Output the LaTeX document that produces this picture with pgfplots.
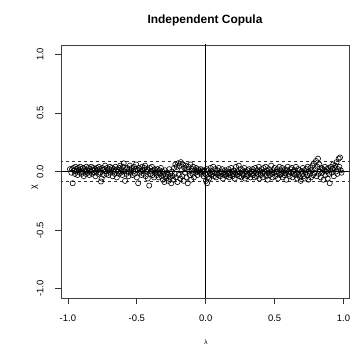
\documentclass[border=0pt]{standalone}
\usepackage{pgfplots}
\pgfplotsset{compat=1.18}
\usepackage{fontspec}
\setmainfont{Liberation Sans}
\begin{document}
\begin{tikzpicture}[x=1bp,y=1bp]
\path[use as bounding box] (0,0) rectangle (351,347);
\begin{axis}[
  at={(61bp,49bp)}, anchor=south west,
  scale only axis, width=288bp, height=253bp,
  xmin=-1.05, xmax=1.04, ymin=-1.08, ymax=1.08,
  axis line style={black!75, line width=0.8bp},
  xtick={-1,-0.5,0,0.5,1}, ytick={-1,-0.5,0,0.5,1},
  xticklabels={-1.0,-0.5,0.0,0.5,1.0}, yticklabels={-1.0,-0.5,0.0,0.5,1.0},
  tick align=outside, xtick pos=bottom, ytick pos=left,
  major tick length=6bp,
  tick style={black!80, line width=0.6bp},
  xticklabel style={font=\fontsize{9.5}{10}\selectfont, inner sep=0pt, anchor=center, yshift=-14bp},
  yticklabel style={font=\fontsize{9.5}{10}\selectfont, rotate=90, anchor=center, inner sep=0pt, yshift=15bp},
  clip=true,
]
\addplot[black, line width=0.6bp] coordinates {(0,-1.1) (0,1.1)};
\addplot[black, line width=0.6bp] coordinates {(-1.1,0) (1.1,0)};
\addplot[black!80, line width=0.6bp, dash pattern=on 3bp off 3bp] coordinates {(-1.1,0.0855) (1.1,0.0855)};
\addplot[black!80, line width=0.6bp, dash pattern=on 3bp off 3bp] coordinates {(-1.1,-0.0855) (1.1,-0.0855)};
\addplot[only marks, mark=o, mark size=2.6bp, mark options={line width=0.6bp, black}] table[row sep=\\] {
l c\\
-0.985 0.02\\ -0.975 -0.01\\ -0.97 0.02\\ -0.965 -0.10\\ -0.96 0.03\\ -0.955 0.01\\ -0.95 -0.02\\ -0.945 0.04\\ -0.94 0.00\\ -0.935 0.02\\
-0.93 -0.03\\ -0.925 0.03\\ -0.92 0.01\\ -0.915 -0.01\\ -0.91 0.04\\ -0.905 0.02\\ -0.90 -0.02\\ -0.895 0.00\\ -0.89 0.03\\ -0.885 -0.04\\
-0.88 0.02\\ -0.875 0.00\\ -0.87 -0.02\\ -0.865 0.04\\ -0.86 0.01\\ -0.855 -0.01\\ -0.85 0.03\\ -0.845 -0.03\\ -0.84 0.02\\ -0.835 0.00\\
-0.83 0.04\\ -0.825 -0.02\\ -0.82 0.01\\ -0.815 0.03\\ -0.81 -0.01\\ -0.805 0.02\\ -0.80 -0.04\\ -0.795 0.00\\ -0.79 0.03\\ -0.785 0.01\\
-0.78 -0.02\\ -0.775 0.04\\ -0.77 0.02\\ -0.765 -0.01\\ -0.76 -0.085\\ -0.755 -0.06\\ -0.75 0.03\\ -0.745 0.01\\ -0.74 -0.03\\ -0.735 0.02\\
-0.73 0.05\\ -0.725 0.00\\ -0.72 -0.02\\ -0.715 0.03\\
-0.71 0.01\\ -0.705 -0.03\\ -0.70 0.02\\ -0.695 0.04\\ -0.69 -0.01\\ -0.685 0.01\\ -0.68 0.03\\ -0.675 -0.04\\ -0.67 0.00\\ -0.665 0.02\\
-0.66 -0.02\\ -0.655 0.04\\ -0.65 0.01\\ -0.645 -0.05\\ -0.64 0.02\\ -0.635 0.00\\ -0.63 -0.02\\ -0.625 0.03\\ -0.62 0.05\\ -0.615 -0.01\\
-0.61 0.01\\ -0.605 -0.03\\ -0.60 0.04\\ -0.595 0.07\\ -0.59 0.00\\ -0.585 -0.08\\ -0.58 0.02\\ -0.575 -0.02\\ -0.57 0.03\\ -0.565 0.00\\
-0.56 -0.04\\ -0.555 0.02\\ -0.55 0.05\\ -0.545 -0.01\\ -0.54 0.01\\ -0.535 0.03\\ -0.53 -0.03\\ -0.525 0.00\\ -0.52 0.04\\ -0.515 -0.02\\
-0.51 0.02\\ -0.505 0.06\\ -0.50 -0.05\\ -0.495 0.01\\ -0.49 -0.10\\ -0.485 0.03\\ -0.48 -0.01\\ -0.475 0.02\\ -0.47 0.00\\ -0.465 -0.03\\
-0.46 0.04\\ -0.455 0.01\\ -0.45 -0.02\\ -0.445 0.03\\ -0.44 0.05\\ -0.435 -0.04\\ -0.43 0.00\\ -0.425 0.02\\ -0.42 -0.06\\ -0.415 0.01\\
-0.41 -0.12\\ -0.405 0.03\\ -0.40 -0.02\\ -0.395 0.00\\ -0.39 0.04\\ -0.385 -0.03\\ -0.38 0.01\\ -0.375 -0.05\\ -0.37 0.02\\ -0.365 -0.01\\
-0.36 0.00\\ -0.355 -0.03\\ -0.35 0.02\\ -0.345 -0.01\\ -0.34 -0.05\\ -0.335 0.01\\ -0.33 -0.02\\ -0.325 0.03\\ -0.32 -0.04\\ -0.315 0.00\\
-0.31 -0.07\\ -0.305 -0.02\\ -0.30 -0.09\\ -0.295 0.01\\ -0.29 -0.04\\ -0.285 -0.06\\ -0.28 -0.01\\ -0.275 -0.03\\ -0.27 -0.08\\ -0.265 0.02\\
-0.26 -0.05\\ -0.255 -0.02\\ -0.25 -0.10\\ -0.245 0.00\\ -0.24 -0.04\\ -0.235 -0.07\\ -0.23 0.03\\ -0.225 -0.02\\ -0.22 0.06\\ -0.215 -0.05\\
-0.21 0.04\\ -0.205 -0.09\\ -0.20 0.07\\ -0.195 -0.03\\ -0.19 0.05\\ -0.185 -0.06\\ -0.18 0.08\\ -0.175 0.01\\ -0.17 -0.04\\ -0.165 0.06\\
-0.16 -0.08\\ -0.155 0.03\\ -0.15 -0.01\\ -0.145 0.05\\ -0.14 -0.05\\ -0.135 0.02\\ -0.13 -0.10\\ -0.125 0.04\\ -0.12 0.00\\ -0.115 -0.03\\
-0.11 0.06\\ -0.105 -0.07\\ -0.10 0.02\\ -0.095 -0.02\\ -0.09 0.04\\ -0.085 -0.05\\ -0.08 0.01\\ -0.075 -0.01\\ -0.07 0.03\\ -0.065 0.00\\
-0.06 -0.03\\ -0.055 0.02\\ -0.05 0.01\\ -0.045 -0.01\\ -0.04 0.00\\ -0.035 0.02\\ -0.03 -0.02\\ -0.025 0.01\\ -0.02 0.00\\ -0.015 -0.04\\
-0.01 0.01\\ -0.005 -0.02\\
0.002 -0.08\\ 0.005 -0.03\\ 0.008 0.02\\ 0.01 -0.10\\ 0.015 -0.05\\ 0.02 0.01\\ 0.025 -0.06\\ 0.03 -0.01\\ 0.035 0.03\\ 0.04 -0.03\\
0.045 0.00\\ 0.05 -0.02\\ 0.055 0.04\\ 0.06 -0.04\\ 0.065 -0.01\\ 0.07 0.02\\ 0.075 -0.05\\ 0.08 -0.02\\ 0.085 0.01\\ 0.09 -0.03\\
0.095 0.03\\ 0.10 -0.01\\ 0.105 -0.04\\ 0.11 0.00\\ 0.115 -0.02\\ 0.12 0.02\\ 0.125 -0.06\\ 0.13 -0.01\\ 0.135 -0.03\\ 0.14 0.01\\
0.145 -0.02\\ 0.15 -0.04\\ 0.155 0.00\\ 0.16 -0.02\\ 0.165 0.02\\ 0.17 -0.05\\ 0.175 -0.01\\ 0.18 -0.03\\ 0.185 0.03\\ 0.19 0.00\\
0.195 -0.04\\ 0.20 -0.02\\ 0.205 0.01\\ 0.21 -0.06\\ 0.215 -0.01\\ 0.22 0.04\\ 0.225 -0.03\\ 0.23 0.00\\ 0.235 -0.02\\ 0.24 0.05\\
0.245 -0.04\\ 0.25 -0.01\\ 0.255 0.02\\ 0.26 -0.05\\ 0.265 -0.02\\ 0.27 0.01\\ 0.275 -0.03\\ 0.28 0.03\\ 0.285 -0.06\\ 0.29 0.00\\
0.295 -0.02\\ 0.30 -0.04\\ 0.305 0.01\\ 0.31 -0.03\\ 0.315 0.02\\ 0.32 -0.01\\ 0.325 -0.05\\ 0.33 0.00\\ 0.335 -0.02\\
0.34 0.02\\ 0.345 -0.03\\ 0.35 0.00\\ 0.355 -0.05\\ 0.36 0.03\\ 0.365 -0.01\\ 0.37 -0.04\\ 0.375 0.01\\ 0.38 -0.02\\ 0.385 0.04\\
0.39 -0.06\\ 0.395 0.00\\ 0.40 -0.03\\ 0.405 0.02\\ 0.41 -0.01\\ 0.415 -0.05\\ 0.42 0.03\\ 0.425 0.00\\ 0.43 -0.02\\ 0.435 0.04\\
0.44 -0.04\\ 0.445 0.01\\ 0.45 -0.07\\ 0.455 -0.01\\ 0.46 0.02\\ 0.465 -0.03\\ 0.47 0.00\\ 0.475 0.05\\ 0.48 -0.02\\ 0.485 -0.05\\
0.49 0.01\\ 0.495 -0.01\\ 0.50 0.03\\ 0.505 -0.04\\ 0.51 0.00\\ 0.515 -0.02\\ 0.52 0.02\\ 0.525 -0.06\\ 0.53 -0.01\\ 0.535 0.04\\
0.54 -0.03\\ 0.545 0.01\\ 0.55 -0.02\\ 0.555 0.03\\ 0.56 -0.05\\ 0.565 0.00\\ 0.57 -0.03\\ 0.575 0.02\\ 0.58 -0.01\\ 0.585 -0.07\\
0.59 0.01\\ 0.595 0.04\\ 0.60 -0.02\\ 0.605 0.00\\ 0.61 -0.04\\ 0.615 0.02\\ 0.62 -0.01\\ 0.625 0.03\\ 0.63 -0.05\\ 0.635 0.00\\
0.64 -0.02\\ 0.645 0.01\\ 0.65 -0.03\\ 0.655 0.04\\ 0.66 -0.01\\ 0.665 -0.06\\ 0.67 0.02\\
0.675 -0.03\\ 0.68 0.01\\ 0.685 -0.05\\ 0.69 -0.08\\ 0.695 0.00\\ 0.70 -0.02\\ 0.705 0.03\\ 0.71 -0.04\\ 0.715 0.01\\ 0.72 -0.06\\
0.725 -0.01\\ 0.73 0.02\\ 0.735 -0.03\\ 0.74 0.04\\ 0.745 -0.07\\ 0.75 0.00\\ 0.755 -0.02\\ 0.76 0.03\\ 0.765 -0.05\\ 0.77 0.01\\
0.775 0.05\\ 0.78 -0.03\\ 0.785 0.07\\ 0.79 -0.01\\ 0.795 0.02\\ 0.80 0.09\\ 0.805 -0.04\\ 0.81 0.04\\ 0.815 0.11\\ 0.82 -0.02\\
0.825 0.06\\ 0.83 0.00\\ 0.835 -0.05\\ 0.84 0.03\\ 0.845 -0.01\\ 0.85 0.02\\ 0.855 -0.07\\ 0.86 0.01\\ 0.865 0.04\\ 0.87 -0.03\\
0.875 0.00\\ 0.88 0.02\\ 0.885 -0.06\\ 0.89 0.03\\ 0.895 -0.02\\ 0.90 -0.10\\ 0.905 0.01\\ 0.91 0.04\\ 0.915 -0.01\\ 0.92 0.02\\
0.925 0.06\\ 0.93 -0.04\\ 0.935 0.03\\ 0.94 0.05\\ 0.945 0.00\\ 0.95 0.08\\ 0.955 -0.02\\ 0.96 0.02\\ 0.965 0.11\\ 0.97 0.04\\
0.975 0.12\\ 0.98 0.01\\ 0.985 -0.01\\
};
\end{axis}
\node[font=\bfseries\fontsize{12}{14}\selectfont] at (205,327) {Independent Copula};
\node[rotate=90, font=\fontsize{9}{10}\selectfont] at (35,160) {χ};
\node[font=\fontsize{6.5}{7}\selectfont] at (206,5) {λ};
\end{tikzpicture}
\end{document}
